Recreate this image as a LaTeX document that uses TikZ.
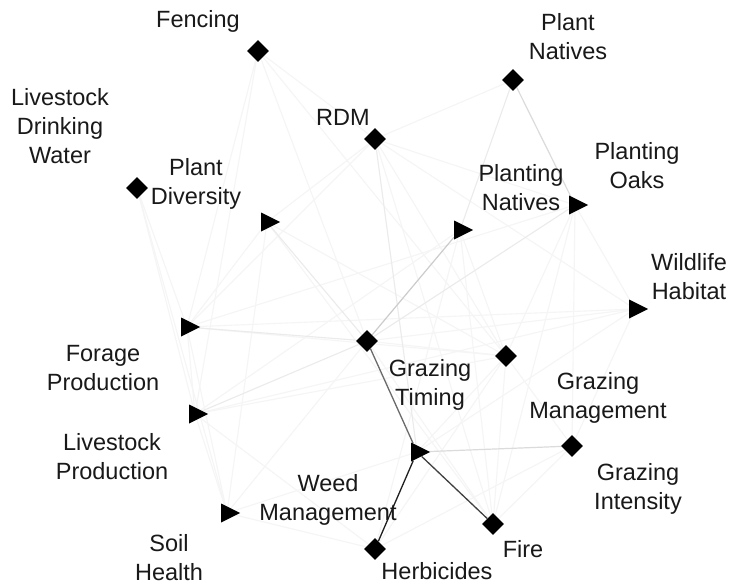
\documentclass[tikz,border=0pt]{standalone}
\usepackage{fontspec}
\setmainfont{Liberation Sans}
\usetikzlibrary{shapes.geometric,backgrounds}
\begin{document}
\begin{tikzpicture}[x=1pt,y=-1pt,
  dia/.style={diamond,fill=black,inner sep=0pt,minimum width=22pt,minimum height=22pt},
  tri/.style={isosceles triangle,isosceles triangle stretches,fill=black,inner sep=0pt,minimum width=19pt,minimum height=19pt},
  lab/.style={font=\fontsize{23.5}{29}\selectfont,align=center,inner sep=0pt,text=black!90},
  faint/.style={draw=black!4,line width=1.1pt},
  light/.style={draw=black!8,line width=1.1pt},
  edgeA/.style={draw=black!88,line width=1.3pt},
  edgeB/.style={draw=black!75,line width=1.3pt},
  edgeC/.style={draw=black!58,line width=1.3pt},
  edgeD/.style={draw=black!20,line width=1.2pt},
  edgeE/.style={draw=black!14,line width=1.2pt}]
\useasboundingbox (0,0) rectangle (736,587);
% nodes
\node[dia] (fen) at (258,51) {};
\node[dia] (ldw) at (137,188) {};
\node[dia] (rdm) at (375,139) {};
\node[dia] (pnat) at (513,80) {};
\node[tri] (pdiv) at (267,222) {};
\node[tri] (plnat) at (460,230) {};
\node[tri] (poak) at (575,205) {};
\node[tri] (wild) at (635,309) {};
\node[dia] (gtim) at (367,341) {};
\node[dia] (gman) at (506,356) {};
\node[dia] (gint) at (572,446) {};
\node[tri] (weed) at (417,452) {};
\node[dia] (fire) at (493,524) {};
\node[dia] (herb) at (375,549) {};
\node[tri] (forage) at (187,327) {};
\node[tri] (lprod) at (195,414) {};
\node[tri] (soil) at (227,513) {};
% labels
\node[lab] (tfen) at (198,21) {Fencing};
\node[lab] (tldw) at (60,126) {Livestock\\Drinking\\Water};
\node[lab] (trdm) at (343,117) {RDM};
\node[lab] (tpnat) at (568,37) {Plant\\Natives};
\node[lab] (tpdiv) at (196,184) {Plant\\Diversity};
\node[lab] (tplnat) at (521,188) {Planting\\Natives};
\node[lab] (tpoak) at (637,166) {Planting\\Oaks};
\node[lab] (twild) at (689,277) {Wildlife\\Habitat};
\node[lab] (tforage) at (103,368) {Forage\\Production};
\node[lab] (tlprod) at (112,457) {Livestock\\Production};
\node[lab] (tsoil) at (169,558) {Soil\\Health};
\node[lab] (tweed) at (328,500) {Weed\\Management};
\node[lab] (tgtim) at (430,385) {Grazing\\Timing};
\node[lab] (tgman) at (598,398) {Grazing\\Management};
\node[lab] (tgint) at (638,489) {Grazing\\Intensity};
\node[lab] (tfire) at (523,549) {Fire};
\node[lab] (therb) at (437,571) {Herbicides};
\begin{scope}[on background layer]
\fill[white] (0,0) rectangle (736,587);
% faint edges
\foreach \a/\b in {rdm/pdiv,rdm/poak,rdm/wild,rdm/pnat,rdm/gman,rdm/forage,rdm/fire,
  fen/gtim,fen/lprod,fen/forage,fen/gman,fen/rdm,
  ldw/forage,ldw/lprod,ldw/soil,
  pdiv/forage,pdiv/soil,pdiv/gman,pdiv/fire,
  plnat/gman,plnat/fire,plnat/herb,plnat/lprod,
  poak/gman,poak/fire,poak/gint,poak/wild,poak/forage,
  wild/gtim,wild/forage,wild/gint,wild/weed,wild/lprod,
  forage/lprod,forage/gman,forage/soil,
  lprod/soil,lprod/gman,lprod/herb,
  soil/weed,soil/gtim,soil/herb,
  gman/weed,gman/fire,gman/herb,gman/gint,
  gint/fire,gint/herb,gtim/gman,gtim/fire}
  \draw[faint] (\a) -- (\b);
\foreach \a/\b in {rdm/weed,pnat/plnat,poak/gtim,gtim/forage,gtim/pdiv,gtim/lprod}
  \draw[light] (\a) -- (\b);
% stronger edges
\draw[edgeE] (weed) -- (gint);
\draw[edgeE] (pnat) -- (poak);
\draw[edgeD] (gtim) -- (plnat);
\draw[edgeC] (gtim) -- (weed);
\draw[edgeB] (weed) -- (fire);
\draw[edgeA] (weed) -- (herb);
\end{scope}
\end{tikzpicture}
\end{document}
